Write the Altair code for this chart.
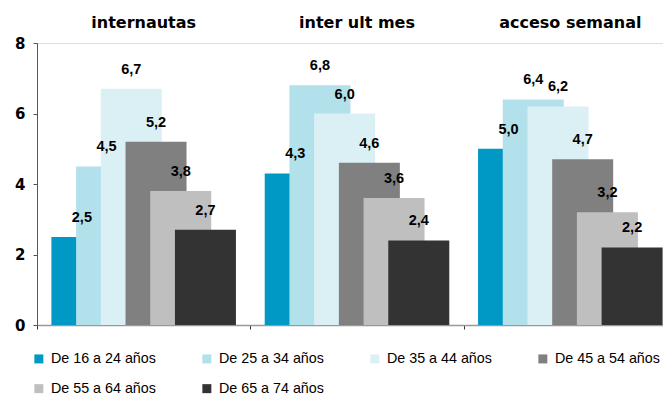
import altair as alt
import pandas as pd

groups = ["internautas", "inter ult mes", "acceso semanal"]
series = ["De 16 a 24 años", "De 25 a 34 años", "De 35 a 44 años",
          "De 45 a 54 años", "De 55 a 64 años", "De 65 a 74 años"]
colors = ["#0099c6", "#b2e0eb", "#dbf0f5", "#808080", "#bfbfbf", "#333333"]
internautas = [2.5, 4.5, 6.7, 5.2, 3.8, 2.7]
inter_ult_mes = [4.3, 6.8, 6.0, 4.6, 3.6, 2.4]
acceso_semanal = [5.0, 6.4, 6.2, 4.7, 3.2, 2.2]
y_ticks = [0, 2, 4, 6, 8]

rows = []
for si, s in enumerate(series):
    for g, vals in zip(groups, [internautas, inter_ult_mes, acceso_semanal]):
        v = vals[si]
        rows.append({"grupo": g, "edad": s, "valor": v,
                     "etiqueta": f"{v:.1f}".replace(".", ",")})
df = pd.DataFrame(rows)

x_enc = alt.X("grupo:N", sort=groups,
              scale=alt.Scale(paddingInner=0.305, paddingOuter=0.1525),
              axis=alt.Axis(labels=False, title=None, bandPosition=0, tickSize=4,
                            tickOffset=-32.5,
                            tickColor="#333333", domainColor="#999999",
                            domainWidth=1.5, grid=False))
xoff_enc = alt.XOffset("edad:N", sort=series,
                       scale=alt.Scale(paddingInner=0, paddingOuter=0))
y_axis = alt.Axis(values=y_ticks, title=None, grid=False, tickSize=4,
                  labelPadding=8, labelFont="DejaVu Sans",
                  labelFontWeight="bold", labelFontSize=15,
                  labelColor="#000000", tickColor="#555555",
                  domainColor="#555555")
color_enc = alt.Color("edad:N", sort=series,
                      scale=alt.Scale(domain=series, range=colors),
                      legend=alt.Legend(orient="none", legendX=-5.3, legendY=308.5,
                                        direction="horizontal",
                                        columns=4, title=None, symbolType="square",
                                        symbolSize=81, symbolStrokeWidth=0,
                                        labelFont="Liberation Sans", labelFontSize=14.3,
                                        labelColor="#000000", labelOffset=5,
                                        columnPadding=43, rowPadding=15, padding=0))

bars = alt.Chart(df).mark_bar(width=61).encode(
    x=x_enc, xOffset=xoff_enc,
    y=alt.Y("valor:Q", stack=None, scale=alt.Scale(domain=[0, 8], nice=False),
            axis=y_axis),
    color=color_enc)

labels = alt.Chart(df).mark_text(dy=-19, font="Liberation Sans", fontWeight="bold",
                                 fontSize=14.5, color="#000000").encode(
    x=x_enc, xOffset=xoff_enc, y=alt.Y("valor:Q"), text="etiqueta:N")

titles = alt.Chart(pd.DataFrame({"grupo": groups})).mark_text(
    font="DejaVu Sans", fontWeight="bold", fontSize=16, color="#000000",
    baseline="middle").encode(
    x=alt.X("grupo:N", sort=groups), y=alt.value(-20), text="grupo:N")

chart = alt.layer(bars, labels, titles).properties(
    width=640, height=282,
    autosize=alt.AutoSizeParams(type="none"),
    padding={"left": 29, "top": 35, "right": -14, "bottom": 72},
).configure_view(stroke=None).configure(background="white")

chart.save("out.html", embed_options={"renderer": "svg", "actions": False})
